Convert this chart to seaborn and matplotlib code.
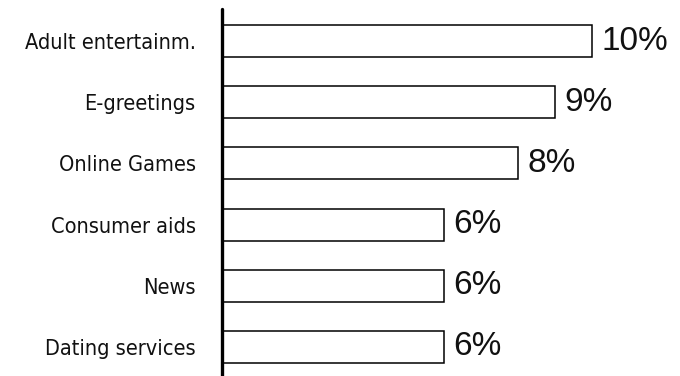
import matplotlib
matplotlib.use("Agg")
import matplotlib.pyplot as plt
import seaborn as sns
import pandas as pd

categories = ["Adult entertainm.", "E-greetings", "Online Games",
              "Consumer aids", "News", "Dating services"]
shares = [10, 9, 8, 6, 6, 6]
value_labels = ["10%", "9%", "8%", "6%", "6%", "6%"]

sns.set_theme(style="white")
plt.rcParams["font.family"] = ["DejaVu Sans"]

df = pd.DataFrame({"category": categories, "share": shares})

fig = plt.figure(figsize=(6.8, 3.76), dpi=100)
ax = fig.add_axes([222 / 680, 0.0, 444 / 680, (376 - 9) / 376])

sns.barplot(data=df, x="share", y="category", orient="h", color="white",
            edgecolor="black", linewidth=1.1, width=0.523, saturation=1, ax=ax)

ax.set_xlim(0, 12)
ax.set_ylim(5.474, -0.523)
ax.set_xlabel("")
ax.set_ylabel("")
ax.set_xticks([])

for side in ["top", "right", "bottom"]:
    ax.spines[side].set_visible(False)
ax.spines["left"].set_linewidth(2.4)
ax.spines["left"].set_color("black")
ax.spines["left"].set_capstyle("round")

# category names in a narrow face, right-aligned against the axis line
ax.tick_params(axis="y", length=0, pad=19, labelcolor="#111111")
for lbl in ax.get_yticklabels():
    lbl.set_fontfamily(["DejaVu Sans"])
    lbl.set_fontstretch("condensed")
    lbl.set_fontsize(15.6)

ax.bar_label(ax.containers[0], labels=value_labels, padding=7,
             fontsize=24, family=["Liberation Sans", "DejaVu Sans"], color="#111111")

fig.savefig("out.png", dpi=100)
